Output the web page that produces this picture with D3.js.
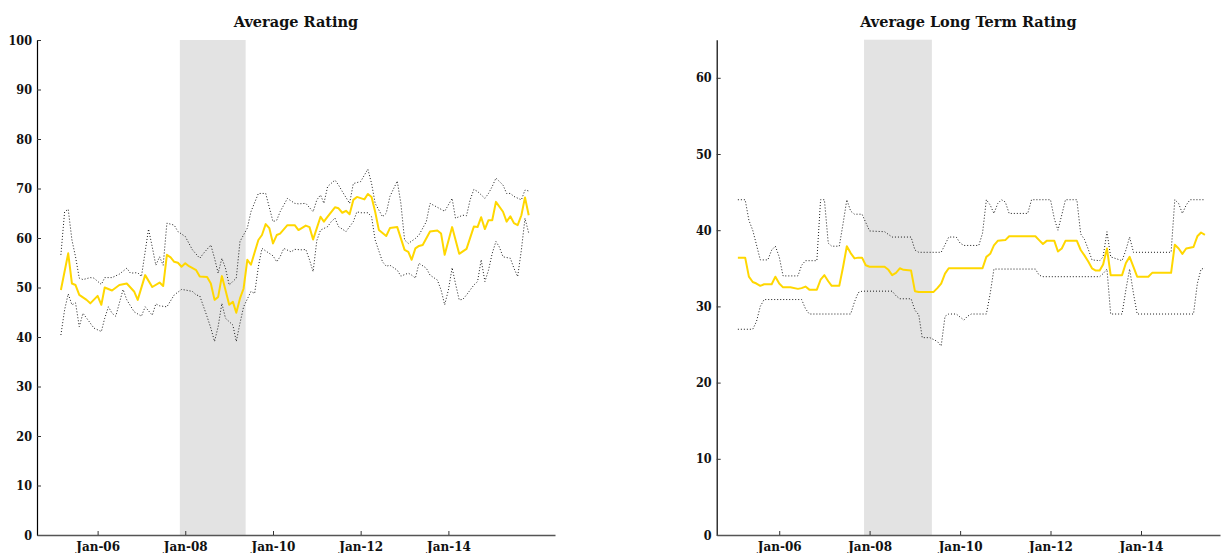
<!DOCTYPE html>
<html>
<head>
<meta charset="utf-8">
<script src="https://cdn.jsdelivr.net/npm/d3@7"></script>
<style>
  html, body { margin: 0; padding: 0; background: #fff; }
  svg text {
    font-family: "DejaVu Serif", serif;
    font-weight: bold;
    fill: #111;
  }
  svg .y-axis text {
    font-family: "DejaVu Serif Condensed", "DejaVu Serif", serif;
    font-stretch: condensed;
  }
</style>
</head>
<body>
<svg id="chart" width="1221" height="553"></svg>
<script>
// ---- Average Rating: monthly mean, max and min ----
const ratingMeanMonths = ["2005-03","2005-05","2005-06","2005-07","2005-08","2005-10","2005-11","2006-01","2006-02","2006-03","2006-05","2006-07","2006-09","2006-11","2006-12","2007-02","2007-04","2007-06","2007-07","2007-08","2007-09","2007-10","2007-11","2007-12","2008-01","2008-02","2008-04","2008-05","2008-07","2008-08","2008-09","2008-10","2008-11","2008-12","2009-01","2009-02","2009-03","2009-04","2009-05","2009-06","2009-07","2009-09","2009-10","2009-11","2009-12","2010-01","2010-02","2010-03","2010-05","2010-07","2010-08","2010-10","2010-11","2010-12","2011-01","2011-02","2011-03","2011-04","2011-06","2011-07","2011-08","2011-09","2011-10","2011-11","2011-12","2012-02","2012-03","2012-04","2012-05","2012-06","2012-08","2012-09","2012-11","2013-01","2013-02","2013-03","2013-04","2013-05","2013-06","2013-08","2013-10","2013-11","2013-12","2014-02","2014-04","2014-06","2014-08","2014-09","2014-10","2014-11","2014-12","2015-01","2015-02","2015-04","2015-05","2015-06","2015-07","2015-08","2015-09","2015-10","2015-11"];
const ratingMeanValues = [49.5,56.9,50.8,50.5,48.5,47.5,46.8,48.3,46.5,50.0,49.4,50.5,50.8,49.2,47.5,52.5,50.1,51.0,50.3,56.6,56.1,55.2,55.0,54.2,54.9,54.3,53.5,52.2,52.1,50.8,47.5,48.1,52.3,49.5,46.5,47.1,44.9,47.8,49.8,55.6,54.6,59.6,60.6,62.8,62.0,58.9,60.6,60.9,62.6,62.6,61.6,62.5,62.2,59.7,62.0,64.3,63.3,64.3,66.2,66.0,65.1,65.5,64.8,67.7,68.3,67.8,68.9,68.3,65.3,61.6,60.4,62.0,62.2,57.6,57.2,55.6,57.9,58.4,58.6,61.3,61.5,60.9,56.6,62.2,56.8,57.8,62.3,62.2,64.2,61.8,63.6,63.6,67.3,65.3,63.3,64.4,63.0,62.6,64.6,68.2,64.6];

const ratingMaxMonths = ["2005-03","2005-04","2005-05","2005-06","2005-07","2005-08","2005-09","2005-11","2005-12","2006-02","2006-03","2006-05","2006-07","2006-09","2006-10","2006-12","2007-01","2007-03","2007-04","2007-05","2007-06","2007-07","2007-08","2007-10","2007-11","2008-01","2008-03","2008-05","2008-06","2008-08","2008-09","2008-10","2008-11","2008-12","2009-01","2009-03","2009-04","2009-06","2009-07","2009-09","2009-11","2010-01","2010-02","2010-03","2010-05","2010-07","2010-08","2010-10","2010-12","2011-01","2011-02","2011-03","2011-04","2011-06","2011-07","2011-08","2011-10","2011-11","2012-01","2012-03","2012-04","2012-05","2012-07","2012-08","2012-09","2012-11","2012-12","2013-01","2013-02","2013-04","2013-05","2013-07","2013-08","2013-10","2013-12","2014-02","2014-03","2014-05","2014-06","2014-07","2014-08","2014-09","2014-11","2014-12","2015-01","2015-02","2015-04","2015-05","2015-06","2015-07","2015-09","2015-10","2015-11"];
const ratingMaxValues = [56.6,65.3,65.8,59.6,56.2,51.9,51.6,52.0,51.9,50.6,52.0,52.0,52.7,53.9,52.9,53.0,52.2,61.8,58.2,54.5,56.2,54.5,63.0,62.6,61.3,60.3,57.6,55.9,56.9,58.6,55.9,52.9,55.9,53.9,50.5,51.9,59.3,62.0,65.3,69.0,69.0,63.3,63.6,65.3,68.0,67.0,66.9,67.0,65.3,67.7,68.7,67.0,70.4,71.7,70.7,69.4,67.0,71.0,71.4,73.9,71.0,67.0,64.3,65.0,68.4,71.5,67.0,59.6,58.9,59.9,60.6,63.3,67.0,66.2,65.4,68.0,64.0,64.6,64.5,67.7,69.8,69.4,68.0,69.0,70.4,72.1,70.7,69.0,69.0,68.4,67.7,69.7,69.5];

const ratingMinMonths = ["2005-03","2005-04","2005-05","2005-06","2005-07","2005-08","2005-09","2005-11","2005-12","2006-02","2006-03","2006-04","2006-05","2006-06","2006-08","2006-09","2006-11","2007-01","2007-02","2007-04","2007-05","2007-06","2007-08","2007-10","2007-12","2008-01","2008-03","2008-04","2008-05","2008-07","2008-08","2008-09","2008-10","2008-11","2008-12","2009-01","2009-02","2009-03","2009-04","2009-05","2009-07","2009-08","2009-09","2009-10","2009-12","2010-01","2010-02","2010-03","2010-04","2010-06","2010-07","2010-09","2010-10","2010-11","2010-12","2011-01","2011-02","2011-04","2011-05","2011-06","2011-07","2011-09","2011-11","2011-12","2012-01","2012-03","2012-04","2012-05","2012-07","2012-08","2012-09","2012-11","2012-12","2013-02","2013-03","2013-04","2013-05","2013-07","2013-08","2013-10","2013-11","2013-12","2014-01","2014-02","2014-03","2014-04","2014-05","2014-06","2014-08","2014-09","2014-10","2014-11","2014-12","2015-01","2015-02","2015-03","2015-04","2015-06","2015-07","2015-08","2015-09","2015-10","2015-11"];
const ratingMinValues = [40.4,45.5,48.7,46.5,46.9,42.1,44.8,42.8,41.8,41.1,43.8,46.1,44.8,44.2,49.6,47.5,45.1,44.2,46.1,44.4,46.7,46.3,46.1,48.5,49.6,49.5,49.2,48.5,48.3,44.1,41.8,39.1,42.1,46.8,43.8,43.1,42.4,39.1,42.8,46.1,49.2,48.8,54.2,57.9,56.9,56.4,55.2,56.2,57.9,57.2,57.7,57.6,57.7,55.6,53.2,59.5,61.6,62.3,63.3,64.0,62.3,61.3,63.3,65.3,65.1,65.1,64.3,59.6,55.2,54.3,54.5,53.5,52.3,52.9,52.5,51.9,54.9,53.9,52.5,51.5,49.5,46.5,49.5,54.0,50.8,47.5,47.6,48.5,50.5,51.2,55.6,51.2,53.5,56.9,59.3,58.2,56.2,55.9,53.9,52.2,57.6,64.0,61.0];

// ---- Average Long Term Rating: monthly mean, max and min ----
const longMeanMonths = ["2005-02","2005-04","2005-05","2005-06","2005-07","2005-08","2005-09","2005-11","2005-12","2006-01","2006-02","2006-04","2006-06","2006-07","2006-08","2006-09","2006-11","2006-12","2007-01","2007-02","2007-03","2007-05","2007-06","2007-07","2007-08","2007-09","2007-10","2007-11","2007-12","2008-01","2008-05","2008-06","2008-07","2008-08","2008-09","2008-10","2008-12","2009-01","2009-02","2009-06","2009-07","2009-08","2009-09","2009-10","2010-07","2010-08","2010-09","2010-10","2010-11","2011-01","2011-02","2011-09","2011-10","2011-11","2011-12","2012-02","2012-03","2012-04","2012-05","2012-08","2012-09","2012-10","2012-11","2012-12","2013-01","2013-02","2013-03","2013-04","2013-05","2013-08","2013-09","2013-10","2013-11","2013-12","2014-03","2014-04","2014-09","2014-10","2014-11","2014-12","2015-01","2015-03","2015-04","2015-05","2015-06"];
const longMeanValues = [36.4,36.4,33.9,33.2,33.0,32.7,32.9,32.9,33.9,33.0,32.5,32.5,32.3,32.4,32.6,32.2,32.2,33.5,34.1,33.3,32.7,32.7,35.2,37.9,37.0,36.3,36.4,36.4,35.4,35.2,35.2,34.8,34.1,34.4,35.0,34.8,34.7,32.0,31.9,31.9,32.4,33.0,34.3,35.0,35.0,36.5,36.9,38.0,38.6,38.7,39.2,39.2,38.7,38.2,38.6,38.6,37.2,37.6,38.6,38.6,37.4,36.7,35.9,35.0,34.7,34.7,35.5,37.6,34.1,34.1,35.7,36.5,35.2,33.9,33.9,34.4,34.4,38.1,37.6,36.9,37.6,37.8,39.2,39.7,39.4];

const longMaxMonths = ["2005-02","2005-04","2005-05","2005-06","2005-07","2005-08","2005-10","2005-11","2005-12","2006-01","2006-02","2006-06","2006-07","2006-08","2006-11","2006-12","2007-01","2007-02","2007-03","2007-05","2007-06","2007-07","2007-08","2007-09","2007-11","2007-12","2008-01","2008-05","2008-07","2008-12","2009-01","2009-02","2009-08","2009-09","2009-10","2009-12","2010-01","2010-02","2010-06","2010-07","2010-08","2010-09","2010-10","2010-11","2010-12","2011-01","2011-02","2011-07","2011-08","2012-01","2012-02","2012-03","2012-04","2012-05","2012-08","2012-09","2012-10","2012-11","2012-12","2013-02","2013-03","2013-04","2013-05","2013-08","2013-09","2013-10","2013-11","2014-09","2014-10","2014-11","2014-12","2015-01","2015-02","2015-06"];
const longMaxValues = [44.0,44.0,41.3,40.0,38.1,36.1,36.1,37.4,37.9,36.5,34.0,34.0,35.4,36.0,36.0,44.0,44.0,38.3,37.9,37.9,40.9,44.0,42.5,42.1,42.1,41.0,39.9,39.8,39.1,39.1,37.4,37.1,37.1,38.1,39.1,39.1,38.3,38.0,38.0,39.6,44.0,43.3,42.2,43.5,44.0,43.7,42.2,42.2,44.0,44.0,41.5,40.0,42.0,44.0,44.0,39.5,38.8,37.5,36.1,36.0,36.5,39.8,36.5,36.0,37.4,39.1,37.1,37.1,44.0,43.5,42.2,43.3,44.0,44.0];

const longMinMonths = ["2005-02","2005-06","2005-07","2005-08","2005-09","2006-07","2006-08","2006-09","2007-08","2007-09","2007-10","2007-11","2008-07","2008-08","2008-09","2008-12","2009-01","2009-02","2009-03","2009-05","2009-07","2009-08","2009-09","2009-10","2009-12","2010-01","2010-02","2010-03","2010-04","2010-08","2010-09","2010-10","2011-09","2011-10","2011-11","2013-02","2013-03","2013-04","2013-05","2013-08","2013-09","2013-10","2013-11","2013-12","2015-03","2015-04","2015-05","2015-06"];
const longMinValues = [27.0,27.0,28.0,30.0,30.9,30.9,29.7,29.0,29.0,30.6,31.8,32.0,32.0,31.4,31.0,31.0,29.5,28.9,25.9,25.9,25.4,24.8,28.7,29.0,29.0,28.6,28.2,28.7,29.0,29.0,31.7,34.9,34.9,34.1,33.9,33.9,34.3,34.9,29.0,29.0,32.2,34.9,31.7,29.0,29.0,33.0,34.9,35.0];

// Shaded recession band and the x-axis ticks
const recessionPeriod = ["2007-12-01", "2009-06-01"];
const xTickMonths = ["2006-01","2008-01","2010-01","2012-01","2014-01"];
const xTickLabels = ["Jan-06","Jan-08","Jan-10","Jan-12","Jan-14"];
const ratingYTicks = [0,10,20,30,40,50,60,70,80,90,100];
const longYTicks = [0,10,20,30,40,50,60];

// Monthly observations sit at the middle of their month
const parseMonth = d3.timeParse("%Y-%m");
const parseDay = d3.timeParse("%Y-%m-%d");
const midMonth = s => { const d = parseMonth(s); return new Date(d.getFullYear(), d.getMonth(), 15); };
const toPoints = (months, values) => months.map((m, i) => ({ date: midMonth(m), value: values[i] }));

const svg = d3.select("#chart");

function drawPanel(cfg) {
  const x = d3.scaleTime().domain(cfg.xDomain.map(parseDay)).range([cfg.left, cfg.right]);
  const y = d3.scaleLinear().domain([0, cfg.yMax]).range([cfg.bottom, cfg.top]);
  const g = svg.append("g");

  // recession shading
  const r0 = x(parseDay(recessionPeriod[0])), r1 = x(parseDay(recessionPeriod[1]));
  g.append("rect")
    .attr("x", r0).attr("y", cfg.top)
    .attr("width", r1 - r0).attr("height", cfg.bottom - cfg.top)
    .attr("fill", "#e3e3e3");

  const line = d3.line().x(d => x(d.date)).y(d => y(d.value));

  // min / max bands as dotted lines
  [cfg.max, cfg.min].forEach(s => {
    g.append("path")
      .datum(toPoints(s[0], s[1]))
      .attr("d", line)
      .attr("fill", "none")
      .attr("stroke", "#1a1a1a")
      .attr("stroke-width", 1)
      .attr("stroke-dasharray", "1,2");
  });

  // mean as solid gold line
  g.append("path")
    .datum(toPoints(cfg.mean[0], cfg.mean[1]))
    .attr("d", line)
    .attr("fill", "none")
    .attr("stroke", "#ffd700")
    .attr("stroke-width", 2)
    .attr("stroke-linejoin", "round");

  // y axis
  const yAxis = g.append("g")
    .attr("class", "y-axis")
    .attr("transform", `translate(${cfg.left},0)`)
    .call(d3.axisLeft(y).tickValues(cfg.yTicks).tickSize(-4).tickSizeOuter(0).tickPadding(5));
  yAxis.select(".domain").attr("stroke", "#000").attr("stroke-width", 1.2);
  yAxis.selectAll(".tick line").attr("stroke", "#333");
  yAxis.selectAll("text").attr("font-size", 12.5).attr("fill", "#111");

  // x axis
  const xAxis = g.append("g")
    .attr("class", "x-axis")
    .attr("transform", `translate(0,${cfg.bottom})`)
    .call(d3.axisBottom(x)
      .tickValues(xTickMonths.map(midMonth))
      .tickFormat((d, i) => xTickLabels[i])
      .tickSize(-4).tickSizeOuter(0).tickPadding(7));
  xAxis.select(".domain").attr("stroke", "#555").attr("stroke-width", 1.5);
  xAxis.selectAll(".tick line").attr("stroke", "#333");
  xAxis.selectAll("text").attr("font-size", 12).attr("fill", "#111");

  // title
  g.append("text")
    .attr("x", (cfg.left + cfg.right) / 2)
    .attr("y", 27)
    .attr("text-anchor", "middle")
    .attr("font-size", 14.5)
    .text(cfg.title);
}

drawPanel({
  title: "Average Rating",
  left: 37, right: 555, top: 40, bottom: 535,
  yMax: 100, yTicks: ratingYTicks,
  xDomain: ["2004-08-28", "2016-06-21"],
  mean: [ratingMeanMonths, ratingMeanValues],
  max: [ratingMaxMonths, ratingMaxValues],
  min: [ratingMinMonths, ratingMinValues]
});

drawPanel({
  title: "Average Long Term Rating",
  left: 716.7, right: 1220, top: 39.7, bottom: 535,
  yMax: 65, yTicks: longYTicks,
  xDomain: ["2004-08-28", "2015-10-15"],
  mean: [longMeanMonths, longMeanValues],
  max: [longMaxMonths, longMaxValues],
  min: [longMinMonths, longMinValues]
});
</script>
</body>
</html>
